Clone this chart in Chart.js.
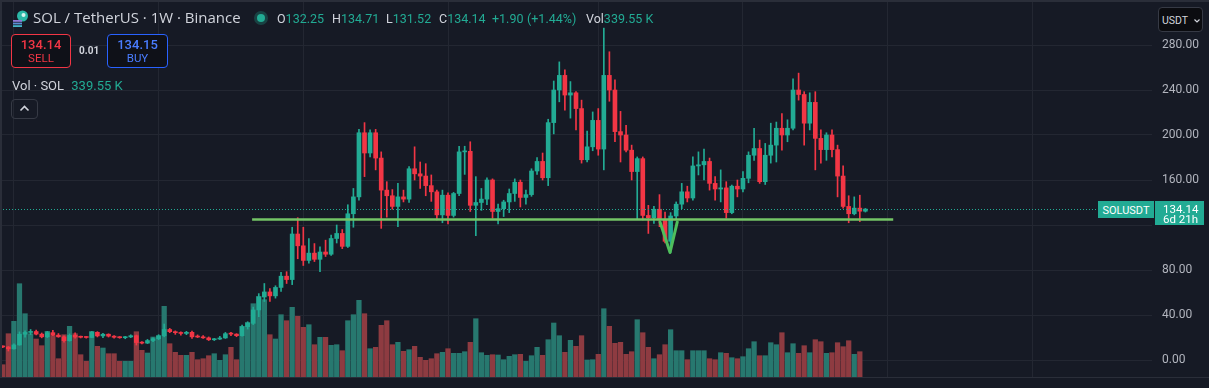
<!DOCTYPE html>
<html>
<head>
<meta charset="utf-8">
<title>SOL / TetherUS · 1W · Binance</title>
<script src="https://cdn.jsdelivr.net/npm/chart.js@4.4.1/dist/chart.umd.min.js"></script>
<style>
  body { margin: 0; background: #161a25; }
  #wrap { position: relative; width: 1209px; height: 388px; overflow: hidden; background: #161a25; font-family: Roboto, "Noto Sans", sans-serif; color: #d1d4dc; }
  #chart { position: absolute; left: 0; top: 0; }
  .abs { position: absolute; white-space: nowrap; line-height: 1; }
  .edge { position: absolute; background: #2a2e39; }
  .title { left: 33px; top: 10px; font-family: "Open Sans", sans-serif; font-size: 15px; }
  .ohlc { top: 12.5px; font-size: 12.5px; }
  .up { color: #22ab94; }
  .box { position: absolute; box-sizing: border-box; border-radius: 4px; background: #0f1118; }
  .box span { position: absolute; left: 0; width: 100%; text-align: center; line-height: 1; }
  .sell { left: 11px; top: 34px; width: 60px; height: 34px; border: 1px solid #f23645; color: #f23645; }
  .buy { left: 107px; top: 34px; width: 61px; height: 34px; border: 1px solid #2962ff; color: #4a7dff; }
  .box .px { top: 3px; font-size: 13px; font-weight: 500; }
  .box .side { top: 18px; font-size: 11.5px; }
  .spread { left: 79px; top: 46px; font-size: 10px; font-weight: 700; color: #d1d4dc; }
  .vol { left: 12px; top: 78.5px; font-size: 13px; }
  .collapse { position: absolute; left: 11px; top: 99px; width: 27px; height: 20px; box-sizing: border-box; border: 1px solid #363a45; border-radius: 4px; }
  .usdt { position: absolute; left: 1158px; top: 7px; width: 45px; height: 25px; box-sizing: border-box; border: 1px solid #363a45; border-radius: 4px; background: #0b0c10; }
  .usdt span { position: absolute; left: 3px; top: 7.5px; font-size: 10.5px; line-height: 1; color: #d1d4dc; }
  .tag { position: absolute; background: #22ab94; color: #ffffff; line-height: 1; }
  .tag-name { left: 1098px; top: 201px; width: 56px; height: 17px; font-size: 11px; text-align: center; }
  .tag-name span { position: relative; top: 3.5px; }
  .tag-price { left: 1155px; top: 201px; width: 49px; height: 24px; font-size: 11.5px; }
  .tag-price span { position: absolute; left: 8px; }
</style>
</head>
<body>
<div id="wrap">
  <canvas id="chart" width="1209" height="388"></canvas>

  <div class="edge" style="left:0;top:0;width:1209px;height:2px"></div>
  <div class="edge" style="left:0;top:0;width:2px;height:378px"></div>
  <div class="edge" style="left:0;top:377px;width:1209px;height:1px"></div>

  <svg class="abs" style="left:12px;top:10px" width="17" height="17" viewBox="0 0 17 17">
    <circle cx="10.5" cy="6" r="5.5" fill="#2bb7a6"/>
    <circle cx="11.5" cy="5" r="2" fill="#d8f4ef"/>
    <rect x="1" y="10" width="9" height="1.8" fill="#8f7ad8"/>
    <rect x="1" y="12.6" width="9" height="1.8" fill="#5b8fd6"/>
    <rect x="1" y="15.2" width="9" height="1.8" fill="#44b3c8"/>
  </svg>
  <div class="abs title">SOL / TetherUS · 1W · Binance</div>
  <svg class="abs" style="left:253px;top:10px" width="16" height="16" viewBox="0 0 16 16">
    <circle cx="8" cy="8" r="7" fill="rgba(34,171,148,0.28)"/>
    <circle cx="8" cy="8" r="4" fill="#22ab94"/>
  </svg>
  <div class="abs ohlc" style="left:277px">O<span class="up">132.25</span></div>
  <div class="abs ohlc" style="left:332px">H<span class="up">134.71</span></div>
  <div class="abs ohlc" style="left:386px">L<span class="up">131.52</span></div>
  <div class="abs ohlc" style="left:439px">C<span class="up">134.14</span></div>
  <div class="abs ohlc up" style="left:492px">+1.90</div>
  <div class="abs ohlc up" style="left:527px">(+1.44%)</div>
  <div class="abs ohlc" style="left:586px">Vol<span class="up">339.55 K</span></div>

  <div class="box sell"><span class="px">134.14</span><span class="side">SELL</span></div>
  <div class="abs spread">0.01</div>
  <div class="box buy"><span class="px">134.15</span><span class="side">BUY</span></div>

  <div class="abs vol">Vol · SOL <span class="up" style="margin-left:4px">339.55 K</span></div>
  <div class="collapse">
    <svg width="25" height="18" viewBox="0 0 25 18"><polyline points="8.5,10.5 12.5,6.5 16.5,10.5" fill="none" stroke="#d1d4dc" stroke-width="1.6"/></svg>
  </div>

  <div class="usdt"><span>USDT</span>
    <svg style="position:absolute;left:34px;top:10px" width="8" height="6" viewBox="0 0 8 6"><polyline points="1.5,1.5 4,4 6.5,1.5" fill="none" stroke="#d1d4dc" stroke-width="1.2"/></svg>
  </div>

  <div class="tag tag-name"><span>SOLUSDT</span></div>
  <div class="tag tag-price"><span style="top:3px">134.14</span><span style="top:13px">6d 21h</span></div>
</div>

<script>
// SOL/USDT weekly candles, first week starts Monday 2022-12-19
const weekOpen = [
  12.2, 11.6, 9.9, 13.4, 22.9, 24.5, 25.3, 23.0, 20.6, 24.3,
  22.1, 20.6, 17.2, 21.9, 20.4, 20.2, 20.0, 24.6, 21.4, 22.9,
  21.2, 20.2, 19.8, 20.5, 21.6, 15.5, 15.0, 17.3, 18.9, 21.5,
  27.1, 25.2, 24.3, 23.6, 24.6, 20.6, 20.4, 19.7, 18.0, 18.6,
  19.6, 23.4, 23.0, 21.6, 29.6, 32.6, 44.5, 56.0, 60.5, 57.0,
  64.5, 74.5, 71.5, 112.0, 101.5, 88.5, 95.0, 89.5, 96.0, 94.0,
  108.0, 112.5, 101.0, 130.0, 145.0, 202.0, 184.0, 202.0, 179.5, 151.0,
  146.0, 136.5, 145.0, 143.0, 170.0, 165.5, 163.5, 155.0, 149.5, 129.0,
  146.5, 128.5, 148.0, 185.0, 185.5, 137.5, 140.0, 143.0, 160.0, 132.0,
  134.5, 140.5, 148.0, 158.0, 144.5, 147.0, 168.0, 176.5, 162.0, 211.0,
  240.0, 253.0, 235.5, 237.5, 223.5, 178.0, 189.5, 213.0, 187.5, 253.0,
  240.0, 203.0, 200.0, 186.5, 167.5, 179.0, 128.5, 126.5, 134.0, 124.5,
  105.5, 128.0, 138.5, 149.5, 144.0, 172.5, 173.5, 176.5, 157.0, 152.0,
  153.0, 131.0, 154.5, 152.0, 161.5, 182.0, 188.0, 158.5, 182.0, 191.0,
  206.0, 200.0, 206.0, 240.0, 236.0, 210.5, 229.0, 197.0, 187.0, 200.0,
  187.0, 163.5, 136.5, 130.0, 135.0, 132.25
];
const weekHigh = [
  12.6, 12.0, 14.3, 25.0, 26.0, 27.1, 26.6, 24.0, 25.4, 26.4,
  23.5, 21.5, 23.2, 24.2, 21.3, 21.0, 25.4, 25.2, 23.8, 23.3,
  21.6, 20.9, 21.0, 22.4, 22.2, 16.4, 18.3, 19.8, 22.5, 32.0,
  28.1, 25.9, 25.1, 25.5, 25.7, 22.3, 21.6, 20.5, 19.2, 21.0,
  24.5, 24.6, 23.4, 31.0, 34.0, 47.0, 59.0, 68.0, 63.5, 66.0,
  78.0, 78.5, 118.0, 126.5, 118.0, 108.0, 103.5, 100.5, 106.5, 111.0,
  120.0, 116.0, 138.0, 152.5, 205.0, 211.0, 204.5, 205.0, 185.0, 158.5,
  151.5, 157.0, 151.0, 172.0, 189.5, 176.0, 174.5, 164.5, 151.0, 151.0,
  148.5, 149.0, 190.0, 190.0, 194.0, 163.0, 152.5, 162.0, 161.0, 138.5,
  142.0, 152.0, 161.0, 160.0, 151.0, 170.0, 180.0, 184.0, 214.0, 248.0,
  265.0, 258.0, 247.5, 238.5, 231.0, 203.5, 220.5, 223.5, 295.0, 274.0,
  249.0, 221.0, 208.5, 191.0, 180.5, 180.5, 137.5, 136.5, 147.0, 131.5,
  131.0, 140.5, 157.0, 154.5, 180.5, 185.0, 187.5, 179.5, 163.0, 169.0,
  158.5, 155.5, 160.0, 167.5, 185.0, 206.0, 195.5, 192.5, 210.5, 211.5,
  219.0, 213.5, 250.0, 255.0, 238.5, 237.5, 238.5, 204.5, 202.0, 204.5,
  191.0, 172.5, 146.0, 145.0, 146.5, 134.71
];
const weekLow = [
  11.0, 8.0, 9.6, 13.1, 20.3, 22.6, 22.3, 19.7, 19.9, 21.6,
  20.2, 15.8, 16.7, 19.3, 19.6, 19.4, 19.8, 20.5, 19.9, 20.4,
  19.5, 19.3, 18.9, 19.9, 13.3, 14.2, 14.6, 16.3, 18.0, 20.6,
  24.3, 22.8, 22.1, 22.5, 19.2, 19.9, 19.1, 17.3, 17.3, 18.2,
  19.2, 21.6, 20.7, 21.1, 27.5, 31.5, 38.5, 52.0, 52.0, 55.0,
  61.0, 68.0, 67.0, 90.0, 84.0, 86.0, 87.5, 78.5, 92.0, 93.0,
  104.0, 99.0, 100.0, 118.0, 142.0, 163.0, 180.5, 169.0, 117.0, 127.0,
  134.0, 118.5, 140.5, 140.0, 160.0, 152.5, 146.0, 141.0, 124.5, 122.0,
  121.0, 127.0, 146.0, 165.0, 132.0, 110.5, 133.0, 138.0, 126.0, 121.0,
  127.5, 131.0, 141.0, 136.0, 138.5, 145.5, 165.0, 160.0, 155.0, 201.0,
  229.5, 222.0, 215.0, 204.5, 175.0, 176.0, 186.0, 182.0, 169.0, 230.0,
  194.0, 176.0, 185.0, 160.0, 125.5, 124.5, 112.5, 121.5, 118.5, 104.0,
  95.5, 124.5, 134.5, 140.5, 142.0, 164.5, 160.0, 151.0, 142.0, 140.5,
  126.0, 130.0, 145.0, 149.5, 157.5, 177.5, 157.0, 156.0, 175.0, 176.0,
  186.5, 194.0, 204.5, 231.0, 191.0, 204.5, 169.0, 175.0, 177.5, 180.5,
  145.0, 135.0, 122.0, 129.0, 123.0, 131.52
];
const weekClose = [
  11.6, 9.9, 13.4, 22.9, 24.5, 25.3, 23.0, 20.6, 24.3, 22.1,
  20.6, 17.2, 21.9, 20.4, 20.2, 20.0, 24.6, 21.4, 22.9, 21.2,
  20.2, 19.8, 20.5, 21.6, 15.5, 15.0, 17.3, 18.9, 21.5, 27.1,
  25.2, 24.3, 23.6, 24.6, 20.6, 20.4, 19.7, 18.0, 18.6, 19.6,
  23.4, 23.0, 21.6, 29.6, 32.6, 44.5, 56.0, 60.5, 57.0, 64.5,
  74.5, 71.5, 112.0, 101.5, 88.5, 95.0, 89.5, 96.0, 94.0, 108.0,
  112.5, 101.0, 130.0, 145.0, 202.0, 184.0, 202.0, 179.5, 151.0, 146.0,
  136.5, 145.0, 143.0, 170.0, 165.5, 163.5, 155.0, 149.5, 129.0, 146.5,
  128.5, 148.0, 185.0, 185.5, 137.5, 140.0, 143.0, 160.0, 132.0, 134.5,
  140.5, 148.0, 158.0, 144.5, 147.0, 168.0, 176.5, 162.0, 211.0, 240.0,
  253.0, 235.5, 237.5, 223.5, 178.0, 189.5, 213.0, 187.5, 253.0, 240.0,
  203.0, 200.0, 186.5, 167.5, 179.0, 128.5, 126.5, 134.0, 124.5, 105.5,
  128.0, 138.5, 149.5, 144.0, 172.5, 173.5, 176.5, 157.0, 152.0, 153.0,
  131.0, 154.5, 152.0, 161.5, 182.0, 188.0, 158.5, 182.0, 191.0, 206.0,
  200.0, 206.0, 240.0, 236.0, 210.5, 229.0, 197.0, 187.0, 200.0, 187.0,
  163.5, 136.5, 130.0, 135.0, 132.25, 134.14
];
// weekly volume, millions of SOL
const weekVolume = [
  13.3, 44.3, 56.7, 94.3, 64.3, 44.3, 39.0, 32.3, 46.7, 42.3,
  19.3, 43.3, 51.7, 44.3, 23.3, 16.7, 46.7, 31.7, 30.0, 24.3,
  24.3, 16.7, 16.7, 16.7, 46.3, 27.7, 25.0, 41.0, 42.3, 71.7,
  34.3, 25.7, 22.7, 22.7, 25.7, 18.3, 19.3, 22.3, 24.3, 17.7,
  23.3, 30.7, 18.3, 51.7, 55.7, 74.3, 81.7, 78.3, 43.3, 39.0,
  63.3, 57.3, 70.7, 61.7, 50.7, 53.3, 33.3, 40.7, 40.7, 32.7,
  33.3, 27.3, 57.3, 63.3, 77.7, 64.3, 29.3, 30.7, 52.7, 57.3,
  33.3, 35.7, 26.7, 28.3, 31.7, 20.7, 17.7, 19.3, 24.3, 25.7,
  29.3, 24.7, 24.7, 26.3, 35.7, 59.3, 25.3, 22.7, 23.3, 23.0,
  18.3, 21.7, 23.3, 23.7, 16.7, 22.3, 30.7, 22.7, 38.3, 55.0,
  42.3, 25.7, 37.7, 31.7, 42.3, 18.0, 18.3, 23.7, 69.3, 51.7,
  34.7, 35.7, 23.7, 26.3, 58.3, 45.3, 30.7, 19.3, 23.3, 33.3,
  48.3, 27.3, 27.3, 18.3, 27.3, 27.3, 27.3, 19.3, 18.3, 25.3,
  24.7, 20.3, 19.3, 21.3, 29.3, 36.3, 22.3, 22.3, 35.3, 33.3,
  45.3, 25.3, 34.3, 24.7, 32.3, 25.3, 38.3, 36.3, 24.7, 25.3,
  35.3, 31.3, 37.3, 23.7, 26.3, 0.34
];

// price axis
const priceTicks = [0, 40, 80, 120, 160, 200, 240, 280];
const priceRange = [-16, 320];
const volumeRange = [0, 378];

// drawings on the chart (week index, price)
const supportLevel = 125;
const supportWeeks = [44.8, 160];
const markWeeks = [118.1, 119.9, 120.6, 121.2];
const markPrices = [122.7, 95.6, 110.2, 122.7];

const upColor = '#22ab94';
const downColor = '#f23645';
const volUp = '#27786f';
const volDown = '#8e3b41';
const gridColor = '#232732';

// weekly slots, incl. empty space on the right like the terminal
const slotCount = 207;
const firstWeek = Date.UTC(2022, 11, 19);
const weekLabels = [];
for (let i = 0; i < slotCount; i++) {
  weekLabels.push(new Date(firstWeek + i * 7 * 86400000).toISOString().slice(0, 10));
}
// vertical grid at every January / July
const halfYearMarks = [];
for (let i = 1; i < slotCount; i++) {
  const m = weekLabels[i].slice(5, 7);
  if (m !== weekLabels[i - 1].slice(5, 7) && (m === '01' || m === '07')) halfYearMarks.push(i);
}

const lastClose = weekClose[weekClose.length - 1];
const candleColors = weekClose.map((c, i) => c >= weekOpen[i] ? upColor : downColor);
const volumeColors = weekClose.map((c, i) => c >= weekOpen[i] ? volUp : volDown);

// dotted line at the last price
const lastPriceLine = {
  id: 'lastPriceLine',
  afterDatasetsDraw(chart) {
    const { ctx, chartArea, scales } = chart;
    const y = Math.round(scales.y.getPixelForValue(lastClose)) + 0.5;
    ctx.save();
    ctx.strokeStyle = upColor;
    ctx.lineWidth = 1;
    ctx.setLineDash([1, 2]);
    ctx.beginPath();
    ctx.moveTo(chartArea.left, y);
    ctx.lineTo(chartArea.right, y);
    ctx.stroke();
    ctx.restore();
  }
};

Chart.defaults.font.family = 'Roboto';

new Chart(document.getElementById('chart'), {
  type: 'bar',
  data: {
    labels: weekLabels,
    datasets: [
      {
        type: 'line',
        label: 'Mark',
        xAxisID: 'xl',
        yAxisID: 'y',
        data: markWeeks.map((w, k) => ({ x: w, y: markPrices[k] })),
        borderColor: '#4fbf5c',
        borderWidth: 3,
        borderCapStyle: 'round',
        borderJoinStyle: 'round',
        pointRadius: 0,
        order: 0
      },
      {
        type: 'line',
        label: 'Support',
        xAxisID: 'xl',
        yAxisID: 'y',
        data: supportWeeks.map(w => ({ x: w, y: supportLevel })),
        borderColor: '#74c566',
        borderWidth: 2.5,
        pointRadius: 0,
        order: 1
      },
      {
        label: 'Body',
        xAxisID: 'x',
        yAxisID: 'y',
        data: weekOpen.map((o, i) => [o, weekClose[i]]),
        backgroundColor: candleColors,
        barThickness: 4,
        minBarLength: 1,
        grouped: false,
        order: 2
      },
      {
        label: 'Wick',
        xAxisID: 'x',
        yAxisID: 'y',
        data: weekLow.map((l, i) => [l, weekHigh[i]]),
        backgroundColor: candleColors,
        barThickness: 1,
        grouped: false,
        order: 3
      },
      {
        label: 'Volume',
        xAxisID: 'x',
        yAxisID: 'vol',
        data: weekVolume,
        backgroundColor: volumeColors,
        barThickness: 4.6,
        grouped: false,
        order: 4
      }
    ]
  },
  options: {
    responsive: false,
    animation: false,
    devicePixelRatio: 1,
    layout: { padding: { left: 0, top: 0, right: 0, bottom: 10 } },
    plugins: { legend: { display: false }, tooltip: { enabled: false } },
    scales: {
      x: { display: false, offset: true },
      xl: {
        type: 'linear',
        position: 'bottom',
        offset: false,
        min: -0.5,
        max: slotCount - 0.5,
        afterBuildTicks: axis => { axis.ticks = halfYearMarks.map(v => ({ value: v })); },
        afterFit: axis => { axis.height = 0; axis.paddingLeft = 0; axis.paddingRight = 0; },
        ticks: { display: false },
        grid: { color: gridColor, drawTicks: false, offset: false },
        border: { display: false }
      },
      y: {
        position: 'right',
        min: priceRange[0],
        max: priceRange[1],
        afterBuildTicks: axis => { axis.ticks = priceTicks.map(v => ({ value: v })); },
        afterFit: axis => { axis.width = 57; axis.paddingTop = 0; axis.paddingBottom = 0; },
        ticks: {
          padding: 10,
          crossAlign: 'near',
          color: '#b2b5be',
          font: { size: 12 },
          callback: v => Math.abs(v - lastClose) < 20 ? '' : v.toFixed(2)
        },
        grid: { color: gridColor, drawTicks: false },
        border: { display: false }
      },
      vol: {
        display: false,
        min: volumeRange[0],
        max: volumeRange[1]
      }
    }
  },
  plugins: [lastPriceLine]
});
</script>
</body>
